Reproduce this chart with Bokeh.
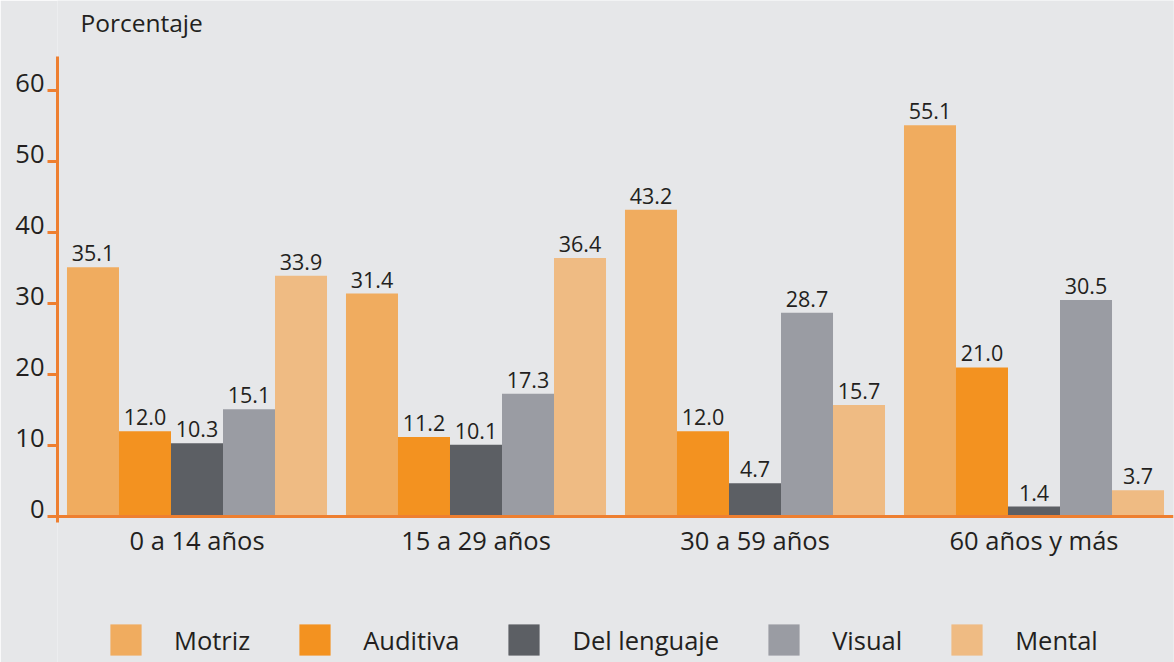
from bokeh.plotting import figure
from bokeh.models import (ColumnDataSource, FactorRange, Range1d, FixedTicker, Span,
                          Legend, LegendItem, Label, LinearAxis)
from bokeh.transform import dodge
from bokeh.core.properties import value
from bokeh.embed import file_html
from bokeh.resources import INLINE

# ---- data ----
categories = ["0 a 14 años", "15 a 29 años", "30 a 59 años", "60 años y más"]
series_names = ["Motriz", "Auditiva", "Del lenguaje", "Visual", "Mental"]
motriz = [35.1, 31.4, 43.2, 55.1]
auditiva = [12.0, 11.2, 12.0, 21.0]
lenguaje = [10.3, 10.1, 4.7, 1.4]
visual = [15.1, 17.3, 28.7, 30.5]
mental = [33.9, 36.4, 15.7, 3.7]
y_ticks = [0, 10, 20, 30, 40, 50, 60]
y_title = "Porcentaje"

# ---- styles / geometry ----
BG = "#e6e7e9"
AXIS = "#ee7f30"
TXT = "#231f20"
FONT = "Open Sans"
colors = ["#f0ac5f", "#f39220", "#5c5f64", "#9a9ca3", "#efbb83"]
series = [motriz, auditiva, lenguaje, visual, mental]
BAR_W = 0.1864
offsets = [(i - 2) * BAR_W for i in range(5)]

W, H = 1174, 662
LEFT = 57
ZERO_PX = 516          # pixel row of y = 0
PX = 7.1               # pixels per percentage point
Y1 = ZERO_PX / PX
Y0 = -(H - ZERO_PX) / PX
AXIS_BOUNDS = (-0.85, 64.8)
LAB_SHIFT = 1.0

p = figure(x_range=FactorRange(factors=categories, range_padding=0),
           y_range=Range1d(Y0, Y1),
           frame_width=W - LEFT - 1, frame_height=H,
           min_border_left=LEFT, min_border_right=1, min_border_top=0, min_border_bottom=0,
           output_backend="svg", toolbar_location=None,
           background_fill_color=BG, border_fill_color=BG, outline_line_color=None)
p.extra_y_ranges = {"lab": Range1d(Y0 - LAB_SHIFT, Y1 - LAB_SHIFT)}

p.xgrid.visible = False
p.ygrid.visible = False
p.xaxis.visible = False

# y axis: line + ticks
ya = p.yaxis[0]
ya.ticker = FixedTicker(ticks=y_ticks)
ya.bounds = AXIS_BOUNDS
ya.axis_line_color = AXIS
ya.axis_line_width = 3
ya.major_tick_line_color = AXIS
ya.major_tick_line_width = 3
ya.major_tick_in = 0
ya.major_tick_out = 10
ya.minor_tick_line_color = None
ya.major_label_standoff = 0
ya.major_label_overrides = {t: "" for t in y_ticks}

# y tick labels, sitting just above their ticks
yl = LinearAxis(y_range_name="lab", ticker=FixedTicker(ticks=y_ticks),
                axis_line_color=None, major_tick_line_color=None, minor_tick_line_color=None,
                major_tick_in=0, major_tick_out=0, major_label_standoff=3,
                major_label_text_font=FONT, major_label_text_font_size="25.5px",
                major_label_text_color=TXT)
p.add_layout(yl, "left")

items = []
for name, vals, col, off in zip(series_names, series, colors, offsets):
    src = ColumnDataSource(dict(cat=categories, val=vals, lab=["%.1f" % v for v in vals]))
    r = p.vbar(x=dodge("cat", off, range=p.x_range), top="val", bottom=0, width=BAR_W,
               source=src, fill_color=col, line_color=None)
    p.text(x=dodge("cat", off, range=p.x_range), y="val", text="lab", source=src,
           text_align="center", text_baseline="bottom", y_offset=-6,
           text_font=value(FONT), text_font_size=value("21.5px"), text_color=TXT)
    items.append(LegendItem(label=name, renderers=[r]))

# baseline
p.add_layout(Span(location=0, dimension="width", line_color=AXIS, line_width=3))

# category labels under the baseline
csrc = ColumnDataSource(dict(cat=categories))
p.text(x="cat", y=0, text="cat", source=csrc, text_align="center", text_baseline="bottom",
       y_offset=40, text_font=value(FONT), text_font_size=value("25.5px"), text_color=TXT)

# axis title
p.add_layout(Label(x=0, y=(ZERO_PX - 38) / PX, x_offset=23, text=y_title,
                   text_baseline="bottom", text_align="left",
                   text_font=FONT, text_font_size="24.5px", text_color=TXT))

legend = Legend(items=items, orientation="horizontal", location=(49, 3),
                margin=0, padding=0, spacing=45,
                glyph_width=39, glyph_height=39, label_standoff=29,
                label_text_font=FONT, label_text_font_size="25.5px", label_text_color=TXT,
                background_fill_alpha=0, border_line_color=None)
p.add_layout(legend, "center")

open("out.html", "w").write(file_html(p, INLINE))
